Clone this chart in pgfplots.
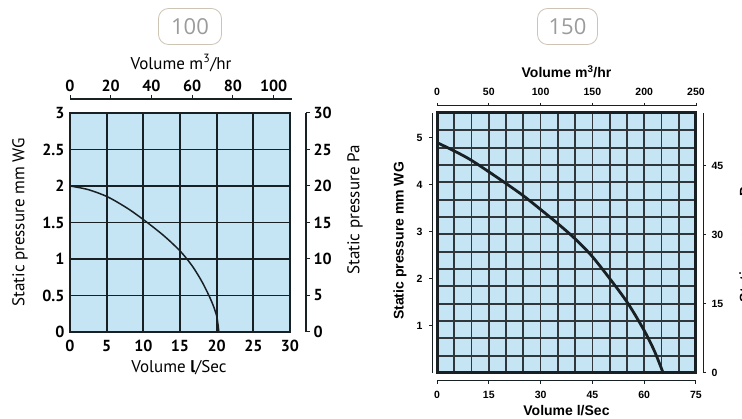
\documentclass[border=0pt]{standalone}
\usepackage{pgfplots}
\pgfplotsset{compat=1.18}
\usepackage{fontspec}
\setmainfont{PT Sans}
\newfontfamily\hel{Liberation Sans}
\newfontfamily\opn{Open Sans}
\definecolor{skyfill}{RGB}{197,229,245}
\definecolor{gridc}{RGB}{25,32,36}
\definecolor{badgeline}{RGB}{205,196,182}
\definecolor{badgetext}{RGB}{155,155,155}
\pgfplotsset{
  /pgf/number format/assume math mode=true,
  lefttick/.style={tick label style={font=\fontsize{16}{16}\selectfont\bfseries}},
  lefttxt/.style={label style={font=\fontsize{17}{17}\selectfont}},
  righttick/.style={tick label style={font=\hel\fontsize{10.5}{10.5}\selectfont\bfseries}},
  righttxt/.style={label style={font=\hel\fontsize{14}{14}\selectfont\bfseries}},
}
\begin{document}
\begin{tikzpicture}
\useasboundingbox (0pt,0pt) rectangle (742pt,-419pt);

% badges
\node[draw=badgeline, line width=0.8pt, rounded corners=10pt, minimum width=63pt, minimum height=36pt,
  text=badgetext, font=\opn\fontsize{22}{22}\selectfont, inner sep=0pt] at (190pt,-26.5pt) {100};
\node[draw=badgeline, line width=0.8pt, rounded corners=10pt, minimum width=60pt, minimum height=36pt,
  text=badgetext, font=\opn\fontsize{22}{22}\selectfont, inner sep=0pt] at (567.5pt,-26.5pt) {150};

% ---------------- left panel (100) ----------------
\begin{axis}[
  at={(70pt,-332pt)}, anchor=south west, scale only axis, width=220pt, height=219pt,
  xmin=0, xmax=30, ymin=0, ymax=3,
  axis background/.style={fill=skyfill},
  xtick={0,5,...,30}, ytick={0,0.5,...,3},
  grid=major, major grid style={line width=1.7pt, gridc},
  axis line style={line width=2.6pt, gridc},
  major tick length=0pt,
  lefttick, lefttxt,
  xticklabel style={yshift=-5pt},
  yticklabel style={xshift=-2pt},
  xlabel={Volume \textbf{l}/Sec}, ylabel={Static pressure mm WG},
  xlabel style={at={(axis description cs:0.495,-0.164)}, anchor=center},
  ylabel style={at={(axis description cs:-0.227,0.5)}, anchor=center},
]
\addplot[line width=1.5pt, gridc, smooth] coordinates {
  (0,2.0) (2.5,1.95) (5.15,1.85) (7.9,1.69) (10.4,1.51) (12.9,1.31) (15.1,1.10)
  (16.7,0.90) (18.1,0.67) (19.3,0.42) (20.0,0.22) (20.3,0)};
\end{axis}

% top axis m3/hr
\begin{axis}[
  at={(70pt,-99pt)}, anchor=north west, scale only axis, width=222pt, height=20pt,
  xmin=0, xmax=109, ymin=0, ymax=1,
  hide y axis, axis x line=top, x axis line style={-, line width=1.2pt, gridc},
  xtick={0,20,...,100}, tick align=outside, major tick length=4pt,
  tick style={line width=1pt, gridc},
  lefttick, lefttxt,
  xlabel={Volume m\textsuperscript{3}/hr},
  xlabel style={at={(axis description cs:0.5,1)}, anchor=center, yshift=36pt},
]
\end{axis}

% right axis Pa
\begin{axis}[
  at={(306pt,-332pt)}, anchor=south east, scale only axis, width=20pt, height=219pt,
  xmin=0, xmax=1, ymin=0, ymax=30,
  hide x axis, axis y line=right, y axis line style={-, line width=1.2pt, gridc},
  ytick={0,5,...,30}, tick align=outside, major tick length=4pt,
  tick style={line width=1pt, gridc},
  lefttick, lefttxt,
  ylabel={Static pressure Pa},
  ylabel style={at={(axis description cs:3.45,0.557)}, anchor=center},
]
\end{axis}

% ---------------- right panel (150) ----------------
\begin{axis}[
  at={(437pt,-373pt)}, anchor=south west, scale only axis, width=259pt, height=260pt,
  xmin=0, xmax=75, ymin=0, ymax=5.53,
  axis background/.style={fill=skyfill},
  xtick={5,10,...,70},
  ytick={0.3687,0.7373,1.106,1.4747,1.8433,2.212,2.5807,2.9493,3.318,3.6867,4.0553,4.424,4.7927,5.1613},
  xticklabels={}, yticklabels={},
  grid=major, major grid style={line width=1.7pt, gridc!90},
  axis line style={line width=3pt, gridc},
  major tick length=0pt,
]
\addplot[line width=2.8pt, gridc, smooth] coordinates {
  (0,4.90) (4.8,4.73) (9.6,4.54) (15.4,4.26) (20.2,4.02) (25,3.77) (29.8,3.49)
  (35.1,3.17) (39.9,2.86) (44.7,2.50) (50,2.01) (55.3,1.48) (60.1,0.89)
  (63,0.46) (65.5,0)};
\end{axis}

% left axis mm WG
\begin{axis}[
  at={(432pt,-373pt)}, anchor=south west, scale only axis, width=20pt, height=260pt,
  xmin=0, xmax=1, ymin=0, ymax=5.53,
  hide x axis, axis y line=left, y axis line style={-, line width=1pt, gridc},
  ytick={1,2,3,4,5}, tick align=outside, major tick length=3pt,
  tick style={line width=1pt, gridc},
  righttick, righttxt,
  yticklabel style={xshift=-3pt},
  ylabel={Static pressure mm WG},
  ylabel style={at={(axis description cs:-1.6,0.508)}, anchor=center},
]
\end{axis}

% top axis m3/hr
\begin{axis}[
  at={(437pt,-106pt)}, anchor=north west, scale only axis, width=259pt, height=20pt,
  xmin=0, xmax=250, ymin=0, ymax=1,
  hide y axis, axis x line=top, x axis line style={-, line width=1pt, gridc},
  xtick={0,50,...,250}, tick align=outside, major tick length=3pt,
  tick style={line width=1pt, gridc},
  righttick, righttxt,
  xticklabel style={yshift=4pt},
  xlabel={Volume m\textsuperscript{3}/hr},
  xlabel style={at={(axis description cs:0.5,1)}, anchor=center, yshift=34pt},
]
\end{axis}

% bottom axis l/Sec
\begin{axis}[
  at={(437pt,-381pt)}, anchor=south west, scale only axis, width=259pt, height=20pt,
  xmin=0, xmax=75, ymin=0, ymax=1,
  hide y axis, axis x line=bottom, x axis line style={-, line width=1pt, gridc},
  xtick={0,15,...,75}, tick align=outside, major tick length=3pt,
  tick style={line width=1pt, gridc},
  righttick, righttxt,
  xticklabel style={yshift=-4pt},
  xlabel={Volume l/Sec},
  xlabel style={at={(axis description cs:0.5,0)}, anchor=center, yshift=-30pt},
]
\end{axis}

% right axis Pa
\begin{axis}[
  at={(703pt,-373pt)}, anchor=south east, scale only axis, width=20pt, height=260pt,
  xmin=0, xmax=1, ymin=0, ymax=56.5,
  hide x axis, axis y line=right, y axis line style={-, line width=1pt, gridc},
  ytick={0,15,30,45}, tick align=outside, major tick length=3pt,
  tick style={line width=1pt, gridc},
  righttick, righttxt,
  yticklabel style={xshift=2pt},
  ylabel={Static pressure Pa},
  ylabel style={at={(axis description cs:3.15,0.508)}, anchor=center},
]
\end{axis}
\end{tikzpicture}
\end{document}
